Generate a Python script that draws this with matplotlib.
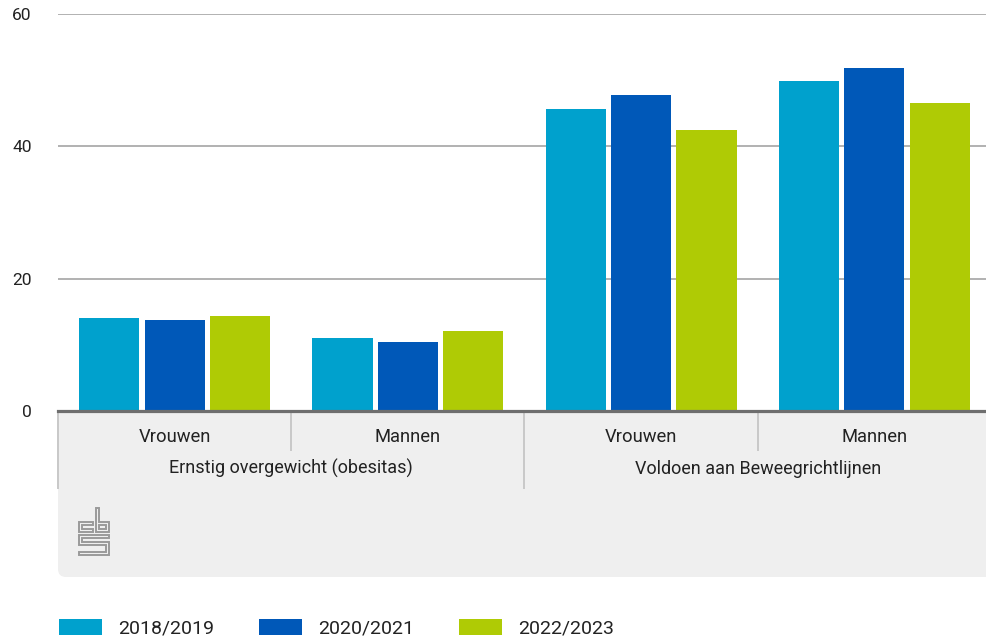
import matplotlib
matplotlib.use("Agg")
import matplotlib.pyplot as plt
import matplotlib.transforms as mtransforms
from matplotlib.patches import FancyBboxPatch, Patch, Polygon
import numpy as np

plt.rcParams['font.family'] = ['Roboto', 'DejaVu Sans']

# data
subgroups = ['Vrouwen', 'Mannen', 'Vrouwen', 'Mannen']
groups = ['Ernstig overgewicht (obesitas)', 'Voldoen aan Beweegrichtlijnen']
periods = ['2018/2019', '2020/2021', '2022/2023']
v_2018 = [14.0, 11.1, 45.6, 49.9]
v_2020 = [13.8, 10.4, 47.7, 51.8]
v_2022 = [14.4, 12.1, 42.5, 46.6]
yticks = [0, 20, 40, 60]

colors = ['#00a1cd', '#0058b8', '#afcb05']
text_col = '#222222'

fig = plt.figure(figsize=(9.87, 6.39), dpi=100)
W, H = 987, 639

def px_axes(x0, y0, x1, y1):
    # pixel box (top-left origin) -> figure fraction
    return [x0 / W, 1 - y1 / H, (x1 - x0) / W, (y1 - y0) / H]

ax = fig.add_axes(px_axes(58, 14, 991, 411))
ax.set_facecolor('white')

# grey category panel behind the axes
panel = FancyBboxPatch((0.58, 0.62), 10.0, 1.77,
                       boxstyle='round,pad=0,rounding_size=0.08',
                       transform=fig.dpi_scale_trans,
                       facecolor='#efefef', edgecolor='none', zorder=-1)
fig.add_artist(panel)

x = np.arange(len(subgroups))
offsets = [-0.28, 0.0, 0.28]
series = [v_2018, v_2020, v_2022]
for off, vals, c, lab in zip(offsets, series, colors, periods):
    ax.bar(x + off, vals, width=0.258, color=c, label=lab, zorder=3)

ax.set_xlim(-0.5, 3.5)
ax.set_ylim(0, 60)
ax.set_yticks(yticks)
ax.set_xticks([])
ax.tick_params(axis='y', length=0, pad=19, labelsize=12.5, labelcolor=text_col)
for s in ax.spines.values():
    s.set_visible(False)
ax.yaxis.grid(True, color='#9c9c9c', linewidth=1.1)
ax.set_axisbelow(True)
ax.axhline(0, color='#6e6e6e', linewidth=2.3, zorder=4, clip_on=False)

# category labels and separators below the axis
trans = mtransforms.blended_transform_factory(ax.transData, ax.transAxes)
for xi, name in zip(x, subgroups):
    ax.text(xi, -0.066, name, transform=trans, ha='center', va='center',
            fontsize=13.2, color=text_col)
for gi, name in enumerate(groups):
    ax.text(gi * 2 + 0.5, -0.145, name, transform=trans, ha='center',
            va='center', fontsize=13, color=text_col)

for xs, depth in [(-0.5, -0.195), (0.5, -0.098), (1.5, -0.195), (2.5, -0.098)]:
    ax.plot([xs, xs], [-0.006, depth], transform=trans, color='#c8c8c8',
            linewidth=1.4, clip_on=False, zorder=2)

# cbs logo
lax = fig.add_axes(px_axes(78, 507, 110, 556))
lax.set_xlim(-1, 31)
lax.set_ylim(48, -1)
lax.axis('off')
logo_c = [(0, 14), (14, 14), (14, 17), (3, 17), (3, 21), (14, 21), (14, 24), (0, 24)]
logo_b = [(17, 0), (20, 0), (20, 14), (30, 14), (30, 24), (17, 24)]
logo_b_in = [(20, 17), (27, 17), (27, 21), (20, 21)]
logo_s = [(0, 27), (30, 27), (30, 30), (3, 30), (3, 34), (30, 34), (30, 47),
          (0, 47), (0, 44), (27, 44), (27, 37), (0, 37)]
for shape in [logo_c, logo_b, logo_b_in, logo_s]:
    lax.add_patch(Polygon(shape, closed=True, fill=False,
                          edgecolor='#9a9a9a', linewidth=1.4))

# legend
handles = [Patch(facecolor=c, edgecolor='none') for c in colors]
fig.legend(handles, periods, loc='center left',
           bbox_to_anchor=(51 / W, 1 - 628 / H), ncol=3, frameon=False,
           fontsize=14, handlelength=2.2, handleheight=0.9,
           handletextpad=0.85, columnspacing=2.3, labelcolor=text_col,
           borderaxespad=0)

fig.savefig('out.png', dpi=100)
